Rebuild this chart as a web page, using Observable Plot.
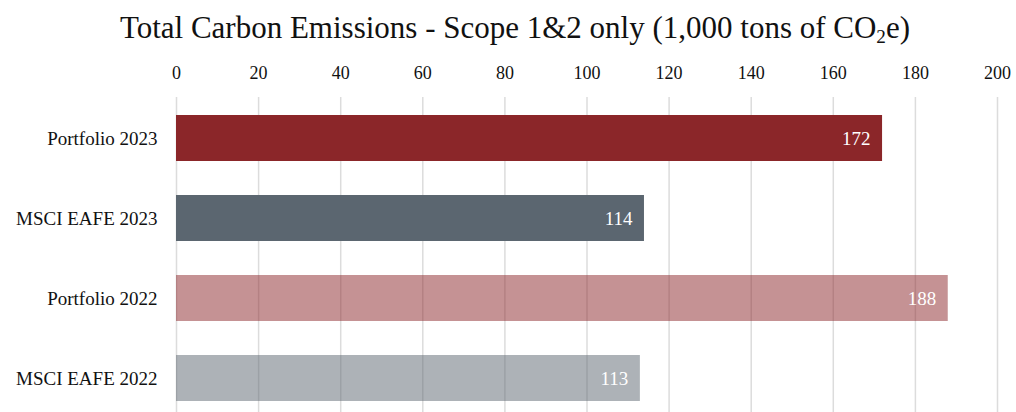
<!DOCTYPE html>
<html>
<head>
<meta charset="utf-8">
<script src="https://cdn.jsdelivr.net/npm/d3@7"></script>
<script src="https://cdn.jsdelivr.net/npm/@observablehq/plot@0.6"></script>
<style>
  body { margin: 0; background: #fff; font-family: "Liberation Serif", serif; }
  #title { height: 50px; font-size: 31px; line-height: 56px; text-align: center; color: #111; white-space: nowrap; padding-left: 14px; }
  #title sub { font-size: 0.62em; vertical-align: -0.25em; }
</style>
</head>
<body>
<div id="title">Total Carbon Emissions - Scope 1&amp;2 only (1,000 tons of CO<sub>2</sub>e)</div>
<div id="chart"></div>
<script>
const categories = ["Portfolio 2023", "MSCI EAFE 2023", "Portfolio 2022", "MSCI EAFE 2022"];
const groups = ["Portfolio", "MSCI EAFE", "Portfolio", "MSCI EAFE"];
const years = [2023, 2023, 2022, 2022];
const values = [172, 114, 188, 113];
const xTicks = [0, 20, 40, 60, 80, 100, 120, 140, 160, 180, 200];

const data = categories.map((c, i) => ({category: c, group: groups[i], year: years[i], value: values[i]}));

const chart = Plot.plot({
  width: 1016,
  height: 362,
  marginLeft: 176,
  marginRight: 19,
  marginTop: 47,
  marginBottom: 0,
  style: {fontFamily: "Liberation Serif, serif", fontSize: "18px", color: "#111", background: "#fff"},
  x: {domain: [0, 200], ticks: xTicks, axis: null, label: null},
  y: {domain: categories, paddingInner: 0.43, paddingOuter: 0.167, align: 0.6, axis: null, label: null},
  color: {domain: ["Portfolio", "MSCI EAFE"], range: ["#8B2629", "#5B6670"]},
  marks: [
    Plot.gridX(xTicks, {stroke: "#dcdcdc", strokeOpacity: 1, strokeWidth: 1.5}),
    Plot.axisX(xTicks, {anchor: "top", tickSize: 0, tickPadding: 19, fontSize: 18, fill: "#111", label: null}),
    Plot.axisY({anchor: "left", tickSize: 0, tickPadding: 19, fontSize: 19, fill: "#111", label: null}),
    Plot.barX(data, {x: "value", y: "category", fill: "group", fillOpacity: d => d.year === 2022 ? 0.5 : 1}),
    Plot.text(data, {x: "value", y: "category", text: d => String(d.value), textAnchor: "end", dx: -12, fill: "white", fontSize: 19})
  ]
});
document.getElementById("chart").appendChild(chart);
</script>
</body>
</html>
